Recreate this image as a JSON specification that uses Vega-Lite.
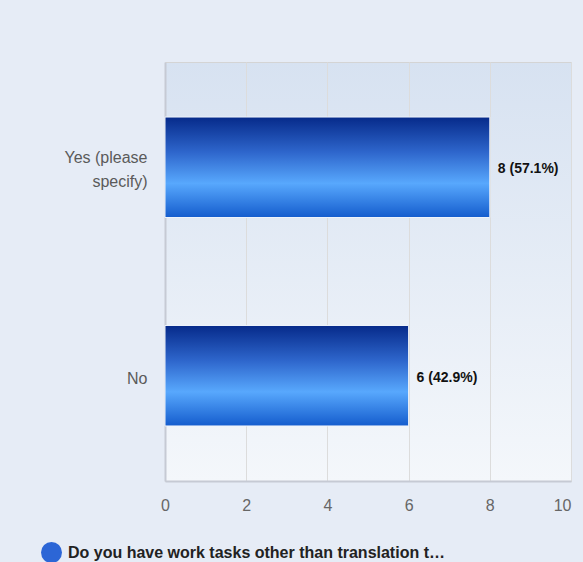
{
  "$schema": "https://vega.github.io/schema/vega-lite/v6.json",
  "width": 406,
  "height": 419,
  "autosize": {"type": "none"},
  "padding": {"left": 165, "top": 62, "right": 12, "bottom": 81},
  "background": "#e6ecf6",
  "data": {"values": [
    {"answer": "Yes (please specify)", "count": 8, "label": "8 (57.1%)", "series": "Do you have work tasks other than translation t…"},
    {"answer": "No", "count": 6, "label": "6 (42.9%)", "series": "Do you have work tasks other than translation t…"}
  ]},
  "encoding": {
    "y": {"field": "answer", "type": "nominal", "sort": null, "title": null,
      "scale": {"paddingInner": 0.518, "paddingOuter": 0.264},
      "axis": {"labelExpr": "datum.label == 'Yes (please specify)' ? ['Yes (please', 'specify)'] : datum.label", "ticks": false, "labelPadding": 18, "labelFontSize": 16, "labelColor": "#5a5a5a", "labelLineHeight": 24, "labelLimit": 200, "domainColor": "#c6cad4", "domainWidth": 2, "labelFont": "Liberation Sans",
        "labelOffset": {"condition": {"test": "datum.value == 'No'", "value": 3}, "value": -9}}},
    "x": {"field": "count", "type": "quantitative", "title": null,
      "scale": {"domain": [0, 10], "nice": false},
      "axis": {"values": [0, 2, 4, 6, 8, 10], "grid": true, "gridColor": "#dcdcdc", "ticks": false, "labelPadding": 16, "labelFontSize": 16, "labelColor": "#666666", "domainColor": "#c6cad4", "domainWidth": 2, "labelFont": "Liberation Sans",
        "labelAlign": {"condition": {"test": "datum.value == 10", "value": "right"}, "value": "center"}}}
  },
  "layer": [
    {
      "mark": {"type": "bar", "stroke": "#eef3fb", "strokeWidth": 1,
        "fill": {"gradient": "linear", "x1": 0, "y1": 0, "x2": 0, "y2": 1, "stops": [{"offset": 0, "color": "#062a8a"}, {"offset": 0.35, "color": "#2e66cc"}, {"offset": 0.66, "color": "#58a8fd"}, {"offset": 1, "color": "#145ccd"}]}}
    },
    {
      "mark": {"type": "point", "filled": true, "size": 0, "opacity": 1, "shape": "circle"},
      "encoding": {
        "color": {"field": "series", "type": "nominal",
          "scale": {"range": ["#2c66d6"]},
          "legend": {"title": null, "orient": "none", "legendX": -124, "legendY": 480, "symbolType": "circle", "symbolSize": 441, "labelFontSize": 16, "labelFontWeight": "bold", "labelColor": "#222222", "labelFont": "Liberation Sans", "labelLimit": 450, "labelOffset": 6, "symbolStrokeWidth": 0}}
      }
    },
    {
      "mark": {"type": "text", "align": "left", "dx": 8, "dy": 2, "fontSize": 14, "fontWeight": "bold", "font": "Liberation Sans", "color": "#111111"},
      "encoding": {"text": {"field": "label"}}
    }
  ],
  "config": {"view": {"stroke": "#d4d4d4", "fill": {"gradient": "linear", "x1": 0, "y1": 0, "x2": 0, "y2": 1, "stops": [{"offset": 0, "color": "#d7e2f1"}, {"offset": 1, "color": "#f4f7fb"}]}}}
}
